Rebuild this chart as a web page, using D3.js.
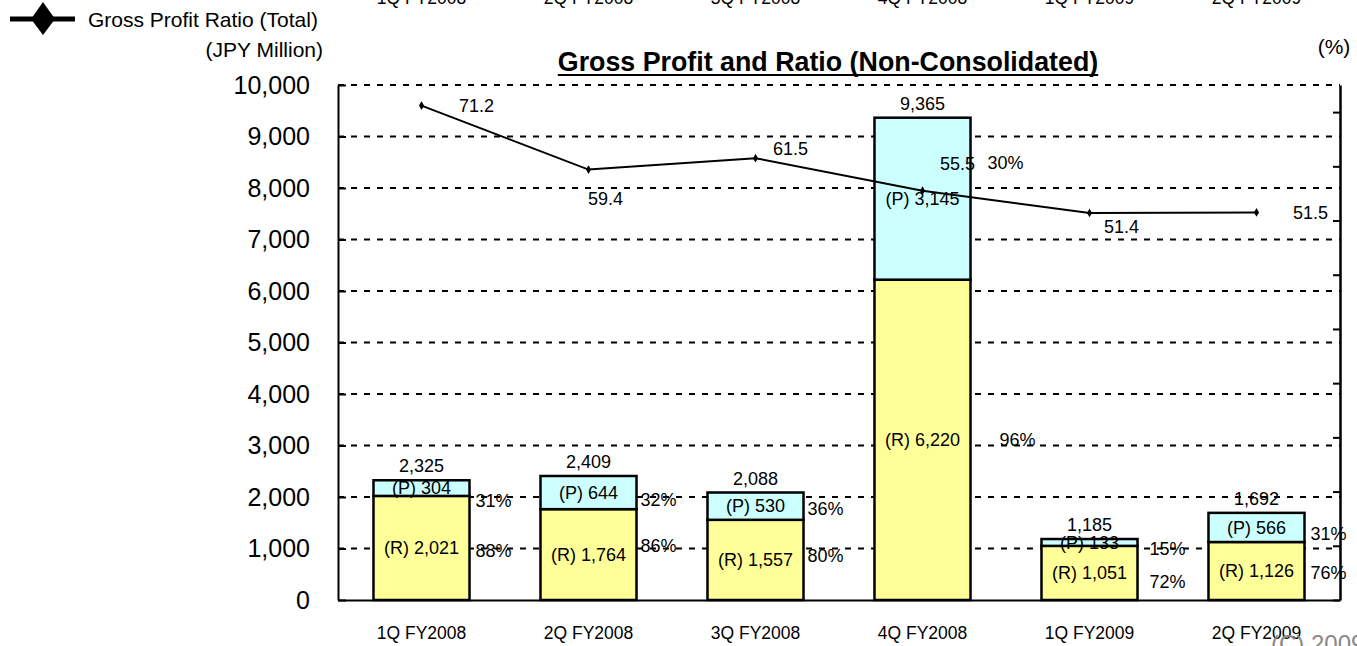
<!DOCTYPE html>
<html>
<head>
<meta charset="utf-8">
<script src="https://cdn.jsdelivr.net/npm/d3@7"></script>
<style>
  body { margin: 0; background: #fff; }
  svg { display: block; font-family: Arial, "Liberation Sans", sans-serif; }
</style>
</head>
<body>
<div id="chart"></div>
<script>
(function () {

// data
var categories = ["1Q FY2008", "2Q FY2008", "3Q FY2008", "4Q FY2008", "1Q FY2009", "2Q FY2009"];
var grossR = [2021, 1764, 1557, 6220, 1051, 1126];
var grossP = [304, 644, 530, 3145, 133, 566];
var grossTotal = [2325, 2409, 2088, 9365, 1185, 1692];
var ratioTotal = [71.2, 59.4, 61.5, 55.5, 51.4, 51.5];
var ratioP = [31, 32, 36, 30, 15, 31];
var ratioR = [88, 86, 80, 96, 72, 76];
var leftTicks = [0, 1000, 2000, 3000, 4000, 5000, 6000, 7000, 8000, 9000, 10000];
var rightTicks = [-20, -10, 0, 10, 20, 30, 40, 50, 60, 70];

// label nudges (px), label placement only
var ratioLabelNudge = [[55, 0], [17, 29], [35, -9], [35, -27], [32, 14], [54, 0]];
var pctPNudge = [[6, 13], [4, 7], [4, 3], [17, -36], [12, 6], [6, 6]];
var pctRNudge = [[6, 3], [4, -9], [4, -4], [29, 0], [12, 9], [6, 2]];

var width = 1357, height = 646;
var plot = {left: 338, right: 1340, top: 85, bottom: 600};

var svg = d3.select('#chart')
  .append('svg')
  .attr('width', width)
  .attr('height', height);

var xScale = d3.scaleBand()
  .domain(categories)
  .range([plot.left, plot.right])
  .paddingInner(0.425)
  .paddingOuter(0.2125);

var yScale = d3.scaleLinear().domain([0, 10000]).range([plot.bottom, plot.top]);
var yRight = d3.scaleLinear().domain([-20, 75]).range([plot.bottom, plot.top]);

var fmt = d3.format(',');
var rows = categories.map(function (c, i) {
  return {cat: c, r: grossR[i], p: grossP[i], total: grossTotal[i], ratio: ratioTotal[i],
          pp: ratioP[i], pr: ratioR[i], i: i};
});

// dashed grid lines
svg.append('g')
  .selectAll('line')
  .data(leftTicks.slice(1))
  .enter().append('line')
  .attr('x1', plot.left).attr('x2', plot.right)
  .attr('y1', function (d) { return yScale(d); })
  .attr('y2', function (d) { return yScale(d); })
  .attr('stroke', '#000')
  .attr('stroke-width', 2)
  .attr('stroke-dasharray', '6,7');

// stacked bars
var bars = svg.append('g').selectAll('g').data(rows).enter().append('g');

bars.append('rect')
  .attr('x', function (d) { return xScale(d.cat); })
  .attr('width', xScale.bandwidth())
  .attr('y', function (d) { return yScale(d.r); })
  .attr('height', function (d) { return yScale(0) - yScale(d.r); })
  .attr('fill', '#FFFF99')
  .attr('stroke', '#000')
  .attr('stroke-width', 2.5);

bars.append('rect')
  .attr('x', function (d) { return xScale(d.cat); })
  .attr('width', xScale.bandwidth())
  .attr('y', function (d) { return yScale(d.r + d.p); })
  .attr('height', function (d) { return yScale(d.r) - yScale(d.r + d.p); })
  .attr('fill', '#CCFFFF')
  .attr('stroke', '#000')
  .attr('stroke-width', 2.5);

// axes
svg.append('g')
  .attr('transform', 'translate(' + plot.left + ',0)')
  .call(d3.axisLeft(yScale).tickValues(leftTicks).tickSize(-8).tickSizeOuter(0).tickPadding(28).tickFormat(fmt))
  .call(function (g) {
    g.select('.domain').attr('stroke-width', 2);
    g.selectAll('.tick line').attr('stroke-width', 2);
    g.selectAll('text').attr('font-size', 25).attr('font-family', null).attr('fill', '#000');
  });

svg.append('g')
  .attr('transform', 'translate(' + plot.right + ',0)')
  .call(d3.axisRight(yRight).tickValues(rightTicks).tickSize(-7).tickSizeOuter(0).tickFormat(''))
  .call(function (g) {
    g.select('.domain').attr('stroke-width', 2.5);
    g.selectAll('.tick line').attr('stroke-width', 2);
  });

svg.append('g')
  .attr('transform', 'translate(0,' + plot.bottom + ')')
  .call(d3.axisBottom(xScale).tickSize(0).tickSizeOuter(0).tickPadding(27))
  .call(function (g) {
    g.select('.domain').attr('stroke-width', 2);
    g.selectAll('text').attr('font-size', 17.5).attr('font-family', null).attr('fill', '#000');
  });

// clipped category row at the very top
svg.append('g').selectAll('text').data(categories).enter().append('text')
  .attr('x', function (d) { return xScale(d) + xScale.bandwidth() / 2; })
  .attr('y', 4)
  .attr('text-anchor', 'middle')
  .attr('font-size', 17.5)
  .text(function (d) { return d; });

// ratio line
var lineGen = d3.line()
  .x(function (d) { return xScale(d.cat) + xScale.bandwidth() / 2; })
  .y(function (d) { return yRight(d.ratio); });

svg.append('path')
  .datum(rows)
  .attr('d', lineGen)
  .attr('fill', 'none')
  .attr('stroke', '#000')
  .attr('stroke-width', 2);

svg.append('g').selectAll('path').data(rows).enter().append('path')
  .attr('d', d3.symbol(d3.symbolDiamond, 22))
  .attr('transform', function (d) {
    return 'translate(' + (xScale(d.cat) + xScale.bandwidth() / 2) + ',' + yRight(d.ratio) + ')';
  })
  .attr('fill', '#000');

// labels
var labels = svg.append('g').attr('font-size', 18).attr('fill', '#000');

labels.selectAll('.lblR').data(rows).enter().append('text')
  .attr('x', function (d) { return xScale(d.cat) + xScale.bandwidth() / 2; })
  .attr('y', function (d) { return yScale(d.r / 2); })
  .attr('dy', '0.35em')
  .attr('text-anchor', 'middle')
  .text(function (d) { return '(R) ' + fmt(d.r); });

labels.selectAll('.lblP').data(rows).enter().append('text')
  .attr('x', function (d) { return xScale(d.cat) + xScale.bandwidth() / 2; })
  .attr('y', function (d) { return yScale(d.r + d.p / 2); })
  .attr('dy', '0.35em')
  .attr('text-anchor', 'middle')
  .text(function (d) { return '(P) ' + fmt(d.p); });

labels.selectAll('.lblT').data(rows).enter().append('text')
  .attr('x', function (d) { return xScale(d.cat) + xScale.bandwidth() / 2; })
  .attr('y', function (d) { return yScale(d.r + d.p) - 8; })
  .attr('text-anchor', 'middle')
  .text(function (d) { return fmt(d.total); });

labels.selectAll('.pctP').data(rows).enter().append('text')
  .attr('x', function (d) { return xScale(d.cat) + xScale.bandwidth() + pctPNudge[d.i][0]; })
  .attr('y', function (d) { return yScale(d.r + d.p / 2) + pctPNudge[d.i][1]; })
  .attr('dy', '0.35em')
  .text(function (d) { return d.pp + '%'; });

labels.selectAll('.pctR').data(rows).enter().append('text')
  .attr('x', function (d) { return xScale(d.cat) + xScale.bandwidth() + pctRNudge[d.i][0]; })
  .attr('y', function (d) { return yScale(d.r / 2) + pctRNudge[d.i][1]; })
  .attr('dy', '0.35em')
  .text(function (d) { return d.pr + '%'; });

labels.selectAll('.ratio').data(rows).enter().append('text')
  .attr('x', function (d) { return xScale(d.cat) + xScale.bandwidth() / 2 + ratioLabelNudge[d.i][0]; })
  .attr('y', function (d) { return yRight(d.ratio) + ratioLabelNudge[d.i][1]; })
  .attr('dy', '0.35em')
  .attr('text-anchor', 'middle')
  .text(function (d) { return d.ratio.toFixed(1); });

// title, underlined
var title = svg.append('text')
  .attr('x', 828).attr('y', 71)
  .attr('text-anchor', 'middle')
  .attr('font-size', 26.8)
  .attr('font-weight', 'bold')
  .text('Gross Profit and Ratio (Non-Consolidated)');
var tw = title.node().getComputedTextLength();
svg.append('line')
  .attr('x1', 828 - tw / 2).attr('x2', 828 + tw / 2)
  .attr('y1', 75).attr('y2', 75)
  .attr('stroke', '#000').attr('stroke-width', 2);

// unit labels
svg.append('text').attr('x', 323).attr('y', 57).attr('text-anchor', 'end')
  .attr('font-size', 21).text('(JPY Million)');
svg.append('text').attr('x', 1334).attr('y', 54).attr('text-anchor', 'middle')
  .attr('font-size', 21).text('(%)');

// legend
var legend = svg.append('g');
legend.append('line')
  .attr('x1', 10).attr('x2', 75).attr('y1', 19).attr('y2', 19)
  .attr('stroke', '#000').attr('stroke-width', 5);
legend.append('path')
  .attr('d', 'M43,2L55,19L43,35L31,19Z')
  .attr('fill', '#000');
legend.append('text').attr('x', 88).attr('y', 27)
  .attr('font-size', 21).text('Gross Profit Ratio (Total)');

// copyright, cut off at the bottom edge
svg.append('text').attr('x', 1271).attr('y', 652)
  .attr('font-size', 24).attr('fill', '#888').text('(C) 2009');

})();
</script>
</body>
</html>
